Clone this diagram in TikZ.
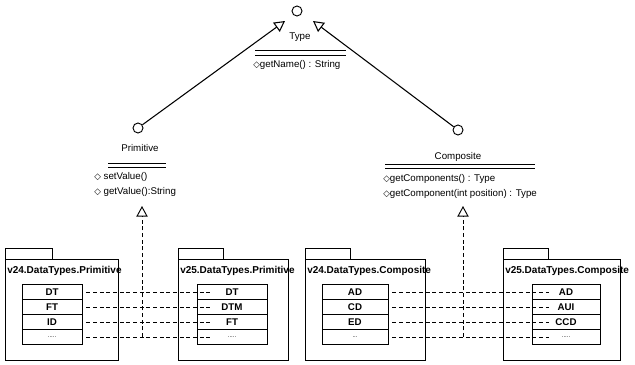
\documentclass[tikz,border=0pt]{standalone}
\usepackage{fontspec}
\setmainfont{Liberation Sans}
\newfontfamily\symfont{DejaVu Sans}
\usetikzlibrary{arrows.meta}
\newcommand{\opm}{{\symfont\fontsize{6.5}{7}\selectfont ◇}}

\tikzset{
  lolly/.style={draw, circle, minimum size=7.5pt, inner sep=0pt, line width=0.7pt},
  clsname/.style={font=\fontsize{7.3}{8}\selectfont, inner sep=0.75pt},
  oper/.style={font=\fontsize{7.3}{8}\selectfont, anchor=west, inner sep=0.75pt},
  pkgname/.style={font=\bfseries\fontsize{7.5}{8}\selectfont, anchor=west, inner sep=0.75pt},
  cell/.style={draw, line width=0.7pt, minimum height=11.25pt, inner sep=0pt, font=\bfseries\fontsize{7.3}{8}\selectfont},
  dotcell/.style={cell, font=\fontsize{4.5}{5}\selectfont},
  gen/.style={line width=0.8pt, -{Triangle[open, length=8pt, width=8.5pt]}},
  real/.style={gen, line width=0.7pt, dash pattern=on 3pt off 2pt},
  dep/.style={line width=0.7pt, dash pattern=on 3pt off 2pt},
  dline/.style={line width=0.7pt},
  pkg/.style={line width=0.6pt},
}

\begin{document}
\begin{tikzpicture}[x=0.75pt,y=0.75pt,yscale=-1,xscale=1]
\useasboundingbox (0,0) rectangle (635,364);

%Class: Type
\node[lolly] (typeC) at (297,11) {};
\node[clsname] (typeN) at (300,37) {Type};
\draw[dline] (255,50) -- (346,50);
\draw[dline] (255,55) -- (346,55);
\node[oper] (getName) at (252,65) {\opm getName() : String};

%Class: Primitive
\node[lolly] (primC) at (138,128) {};
\node[clsname] (primN) at (140,148) {Primitive};
\draw[dline] (108,163) -- (166,163);
\draw[dline] (108,167) -- (166,167);
\node[oper] (setV) at (93,177) {\opm\ setValue()};
\node[oper] (getV) at (93,192) {\opm\ getValue():String};
\coordinate (primT) at (142,206);

%Class: Composite
\node[lolly] (compC) at (458,130) {};
\node[clsname] (compN) at (458,157) {Composite};
\draw[dline] (385,164) -- (535,164);
\draw[dline] (385,168) -- (535,168);
\node[oper] (getCs) at (382,179) {\opm getComponents() : Type};
\node[oper] (getC) at (382,194) {\opm getComponent(int position) : Type};
\coordinate (compT) at (463,206);

%Generalisation arrows
\coordinate (typeL) at (285,21);
\coordinate (typeR) at (313,21);
\draw[gen] (primC) -- (typeL);
\draw[gen] (compC) -- (typeR);

%Package: v24 Primitive
\draw[pkg] (5,248) rectangle (52,259);
\draw[pkg] (5,259) rectangle (118,360);
\node[pkgname] (p1) at (6,271) {v24.DataTypes.Primitive};
\node[cell, minimum width=45pt] (a1) at (52,292) {DT};
\node[cell, minimum width=45pt] (a2) at (52,307) {FT};
\node[cell, minimum width=45pt] (a3) at (52,322) {ID};
\node[dotcell, minimum width=45pt] (a4) at (52,337) {.....};

%Package: v25 Primitive
\draw[pkg] (178,248) rectangle (223,259);
\draw[pkg] (178,259) rectangle (288,360);
\node[pkgname] (p2) at (179,271) {v25.DataTypes.Primitive};
\node[cell, minimum width=52.5pt] (b1) at (232,292) {DT};
\node[cell, minimum width=52.5pt] (b2) at (232,307) {DTM};
\node[cell, minimum width=52.5pt] (b3) at (232,322) {FT};
\node[dotcell, minimum width=52.5pt] (b4) at (232,337) {.....};

%Package: v24 Composite
\draw[pkg] (305,248) rectangle (350,259);
\draw[pkg] (305,259) rectangle (425,360);
\node[pkgname] (p3) at (306,271) {v24.DataTypes.Composite};
\node[cell, minimum width=49.5pt] (c1) at (355,292) {AD};
\node[cell, minimum width=49.5pt] (c2) at (355,307) {CD};
\node[cell, minimum width=49.5pt] (c3) at (355,322) {ED};
\node[dotcell, minimum width=49.5pt] (c4) at (355,337) {...};

%Package: v25 Composite
\draw[pkg] (503,248) rectangle (548,259);
\draw[pkg] (503,259) rectangle (620,360);
\node[pkgname] (p4) at (504,271) {v25.DataTypes.Composite};
\node[cell, minimum width=51pt] (d1) at (566,292) {AD};
\node[cell, minimum width=51pt] (d2) at (566,307) {AUI};
\node[cell, minimum width=51pt] (d3) at (566,322) {CCD};
\node[dotcell, minimum width=51pt] (d4) at (566,337) {.....};

%Mappings between versions
\draw[dep] ([xshift=3]a1.east) -- ([xshift=12]b1.west);
\draw[dep] ([xshift=3]a2.east) -- ([xshift=12]b2.west);
\draw[dep] ([xshift=3]a3.east) -- ([xshift=12]b3.west);
\draw[dep] ([xshift=3]a4.east) -- ([xshift=12]b4.west);
\draw[dep] ([xshift=3]c1.east) -- ([xshift=13]d1.west);
\draw[dep] ([xshift=3]c2.east) -- ([xshift=13]d2.west);
\draw[dep] ([xshift=3]c3.east) -- ([xshift=13]d3.west);
\draw[dep] ([xshift=3]c4.east) -- ([xshift=13]d4.west);

%Realisation arrows
\draw[real] (primT |- a4) -- (primT);
\draw[real] (compT |- c4) -- (compT);

\end{tikzpicture}
\end{document}
